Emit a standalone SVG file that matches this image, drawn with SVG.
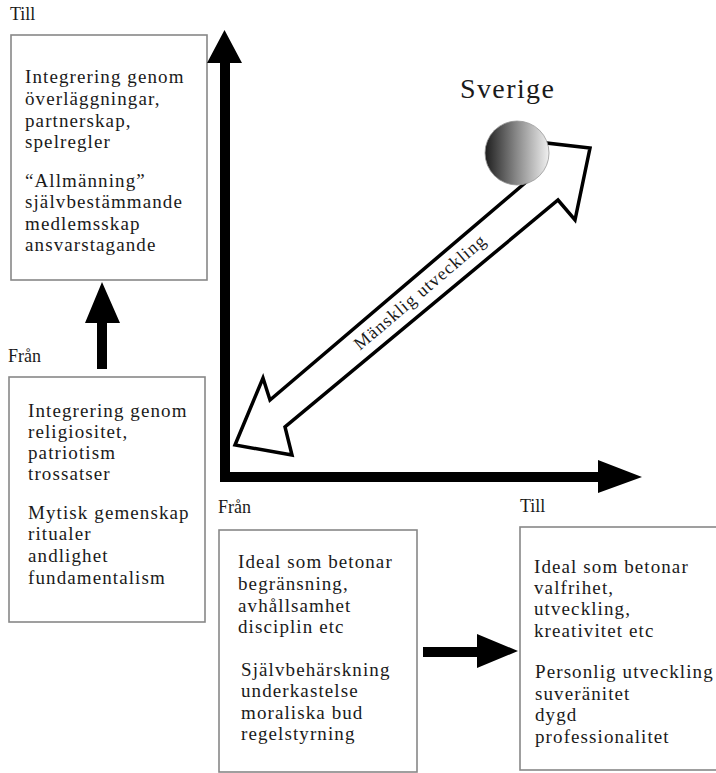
<svg xmlns="http://www.w3.org/2000/svg" width="716" height="773" viewBox="0 0 716 773">
<style>
.t{font-family:"Liberation Serif","Times New Roman",serif;font-size:19px;fill:#1a1a1a;letter-spacing:1.1px}
.lbl{font-family:"Liberation Serif","Times New Roman",serif;font-size:18px;fill:#1a1a1a}
.box{fill:#fff;stroke:#888;stroke-width:1.6}
</style>
<defs>
<linearGradient id="sg" x1="0" y1="0" x2="1" y2="0">
<stop offset="0" stop-color="#1e1e1e"/>
<stop offset="0.5" stop-color="#8a8a8a"/>
<stop offset="1" stop-color="#f0f0f0"/>
</linearGradient>
</defs>
<rect width="716" height="773" fill="#fff"/>
<g id="labels">
<text class="lbl" x="10" y="20">Till</text>
<text class="lbl" x="8" y="362">Från</text>
<text class="lbl" x="218" y="513">Från</text>
<text class="lbl" x="520" y="512">Till</text>
</g>
<g id="box-top-left">
<rect class="box" x="11" y="35" width="196" height="245"/>
<text class="t" x="25" y="83">Integrering genom</text>
<text class="t" x="25" y="105">överläggningar,</text>
<text class="t" x="25" y="127">partnerskap,</text>
<text class="t" x="25" y="148">spelregler</text>
<text class="t" x="25" y="187">“Allmänning”</text>
<text class="t" x="25" y="208">självbestämmande</text>
<text class="t" x="25" y="230">medlemsskap</text>
<text class="t" x="25" y="251">ansvarstagande</text>
</g>
<g id="box-bottom-left">
<rect class="box" x="9" y="377" width="196" height="245"/>
<text class="t" x="28" y="417">Integrering genom</text>
<text class="t" x="28" y="438">religiositet,</text>
<text class="t" x="28" y="459">patriotism</text>
<text class="t" x="28" y="480">trossatser</text>
<text class="t" x="28" y="519">Mytisk gemenskap</text>
<text class="t" x="28" y="540">ritualer</text>
<text class="t" x="28" y="562">andlighet</text>
<text class="t" x="28" y="584">fundamentalism</text>
</g>
<g id="box-bottom-middle">
<rect class="box" x="219" y="530" width="198" height="242"/>
<text class="t" x="238" y="568">Ideal som betonar</text>
<text class="t" x="238" y="590">begränsning,</text>
<text class="t" x="238" y="612">avhållsamhet</text>
<text class="t" x="238" y="633">disciplin etc</text>
<text class="t" x="241" y="676">Självbehärskning</text>
<text class="t" x="241" y="697">underkastelse</text>
<text class="t" x="241" y="719">moraliska bud</text>
<text class="t" x="241" y="740">regelstyrning</text>
</g>
<g id="box-bottom-right">
<rect class="box" x="520" y="527" width="210" height="243"/>
<text class="t" x="534" y="573">Ideal som betonar</text>
<text class="t" x="534" y="594">valfrihet,</text>
<text class="t" x="534" y="615">utveckling,</text>
<text class="t" x="534" y="637">kreativitet etc</text>
<text class="t" x="535" y="678">Personlig utveckling</text>
<text class="t" x="535" y="700">suveränitet</text>
<text class="t" x="535" y="721">dygd</text>
<text class="t" x="535" y="743">professionalitet</text>
</g>
<g id="connectors">
<polygon points="97,369 107,369 107,323 120,323 102,282 85,323 97,323" fill="#000"/>
<polygon points="220,482 220,63 207,63 224.5,30 242,63 230,63 230,472 598,472 598,460 642,477 598,493 598,482" fill="#000"/>
<polygon points="423,647 477,647 477,634 518,651 477,668 477,657 423,657" fill="#000"/>
<polygon points="235,445 263,378 270,400 532,177 546,143 590,148 575,220 558,200 285,427 292,455" fill="#fff" stroke="#000" stroke-width="3.5" stroke-linejoin="miter"/>
<text class="t" x="0" y="0" text-anchor="middle" dominant-baseline="central" transform="translate(420,292) rotate(-40.4)" style="font-size:18px;letter-spacing:1px">Mänsklig utveckling</text>
</g>
<g id="sverige">
<circle cx="517" cy="153" r="32" fill="url(#sg)" stroke="#999" stroke-width="0.8"/>
<text x="460" y="98" style="font-family:'Liberation Serif','Times New Roman',serif;font-size:28px;fill:#1a1a1a;letter-spacing:1.4px">Sverige</text>
</g>
</svg>
